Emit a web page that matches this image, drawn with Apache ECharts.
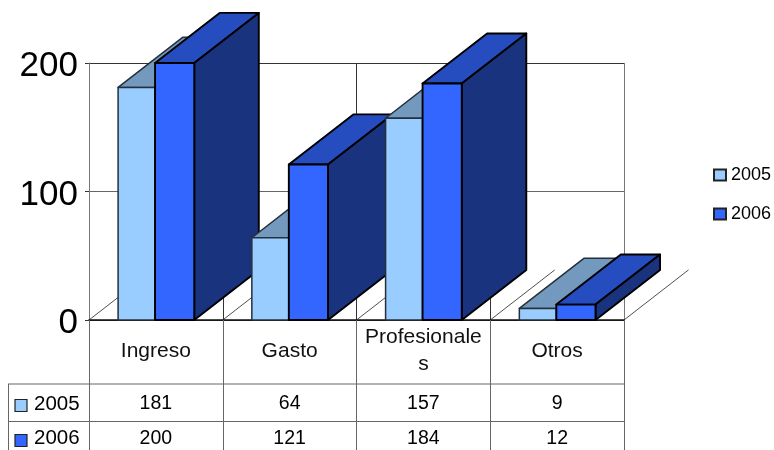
<!DOCTYPE html>
<html>
<head>
<meta charset="utf-8">
<script src="https://cdn.jsdelivr.net/npm/echarts@6/dist/echarts.min.js"></script>
<style>html,body{margin:0;padding:0;background:#fff}#c{width:774px;height:450px}</style>
</head>
<body>
<div id="c"></div>
<script>
const categories = ['Ingreso', 'Gasto', 'Profesionales', 'Otros'];
const seriesNames = ['2005', '2006'];
const values2005 = [181, 64, 157, 9];
const values2006 = [200, 121, 184, 12];
const yTicks = { min: 0, max: 200, interval: 100 };
const palette = [
  { front: '#99CCFF', top: '#7399BF', side: '#5C7A99', stroke: '#26303a' },
  { front: '#3366FF', top: '#264DBF', side: '#19337F', stroke: '#000000' }
];
const FONT = '"Liberation Sans", Arial, sans-serif';

const chart = echarts.init(document.getElementById('c'), null, { renderer: 'canvas' });

function barRender(sIdx) {
  return function (params, api) {
    const idx = api.value(0);
    const band = api.size([1, 0])[0];
    const unit = api.size([0, 1])[1];
    const base = api.coord([idx, 0]);
    const head = api.coord([idx, api.value(1)]);
    const wLight = band * 0.2765, wDark = band * 0.293;
    const start = base[0] - band / 2 + band * 0.2175;
    const x0 = sIdx === 0 ? start : start + wLight;
    const x1 = x0 + (sIdx === 0 ? wLight : wDark);
    const w = x1 - x0;
    const yT = head[1], yB = base[1];
    const dx = band * 0.4825, dy = unit * 39;
    const p = palette[sIdx];
    const z2 = 10 + idx * 4 + sIdx;
    const lw = sIdx === 1 ? 1.9 : 1.5;
    const st = { stroke: p.stroke, lineWidth: lw, lineJoin: 'round' };
    return {
      type: 'group',
      children: [
        { type: 'polygon', z2, shape: { points: [[x0, yT], [x0 + dx, yT - dy], [x1 + dx, yT - dy], [x1, yT]] }, style: Object.assign({ fill: p.top }, st) },
        { type: 'polygon', z2, shape: { points: [[x1, yT], [x1 + dx, yT - dy], [x1 + dx, yB - dy], [x1, yB]] }, style: Object.assign({ fill: p.side }, st) },
        { type: 'rect', z2, shape: { x: x0, y: yT, width: w, height: yB - yT }, style: Object.assign({ fill: p.front }, st) }
      ]
    };
  };
}

function floorRender(params, api) {
  const idx = api.value(0);
  const band = api.size([1, 0])[0];
  const unit = api.size([0, 1])[1];
  const base = api.coord([idx, 0]);
  const dx = band * 0.4825, dy = unit * 39;
  const xs = [base[0] - band / 2];
  if (idx === categories.length - 1) xs.push(base[0] + band / 2);
  return {
    type: 'group',
    children: xs.map(x => ({
      type: 'line', z2: 1,
      shape: { x1: x, y1: base[1], x2: x + dx, y2: base[1] - dy },
      style: { stroke: '#222', lineWidth: 0.8 }
    }))
  };
}

function tableAxis(data, offset) {
  return {
    type: 'category', data: data.map(String), position: 'bottom', offset,
    axisLine: { show: false }, axisTick: { show: false }, splitLine: { show: false },
    axisLabel: { interval: 0, color: '#000', fontFamily: FONT, fontSize: 19.5, margin: 0, verticalAlign: 'middle' }
  };
}

const rowSwatchY = [399.5, 434.5];
const rowTextY = [404, 438.5];
const tableLeft = 8, tableRight = 624, tableRules = [384, 421.5];
const graphics = [];
tableRules.forEach(y => graphics.push({
  type: 'line', z: 1,
  shape: { x1: tableLeft, y1: y, x2: tableRight, y2: y },
  style: { stroke: '#666', lineWidth: 1 }
}));
graphics.push({
  type: 'line', z: 1,
  shape: { x1: tableLeft + 0.5, y1: tableRules[0], x2: tableLeft + 0.5, y2: 450 },
  style: { stroke: '#666', lineWidth: 1 }
});
seriesNames.forEach((n, i) => {
  graphics.push({
    type: 'rect', z: 3,
    shape: { x: 15, y: rowSwatchY[i], width: 12, height: 12 },
    style: { fill: palette[i].front, stroke: '#222', lineWidth: 1.2 }
  });
  graphics.push({
    type: 'text', z: 3, x: 34, y: rowTextY[i],
    style: { text: n, fill: '#000', font: '20.5px ' + FONT, verticalAlign: 'middle' }
  });
});

chart.setOption({
  animation: false,
  backgroundColor: '#fff',
  tooltip: { show: false },
  grid: { left: 89, right: 150, top: 63, bottom: 130, containLabel: false },
  legend: {
    show: true, orient: 'vertical', left: 713, top: 166,
    data: seriesNames, icon: 'rect', itemWidth: 12, itemHeight: 11, itemGap: 21,
    textStyle: { color: '#000', fontFamily: FONT, fontSize: 18, padding: [0, 0, 0, 0] },
    selectedMode: false, padding: 0
  },
  xAxis: [
    {
      type: 'category', data: categories, position: 'bottom',
      axisLine: { show: true, lineStyle: { color: '#111', width: 1.5 } },
      axisTick: { show: true, length: 130, alignWithLabel: false, lineStyle: { color: '#666', width: 1 } },
      splitLine: { show: true, lineStyle: { color: ['#777', '#333', '#333', '#333', '#777'], width: 1 } },
      axisLabel: {
        interval: 0, color: '#111', fontFamily: FONT, fontSize: 21, margin: 31,
        verticalAlign: 'middle', lineHeight: 27, width: 122, overflow: 'breakAll', hideOverlap: false
      }
    },
    tableAxis(values2005, 84),
    tableAxis(values2006, 119)
  ],
  yAxis: {
    type: 'value', min: yTicks.min, max: yTicks.max, interval: yTicks.interval,
    axisLine: { show: true, lineStyle: { color: '#777', width: 1 } },
    axisTick: { show: true, length: 4, lineStyle: { color: '#333', width: 1 } },
    splitLine: { show: true, lineStyle: { color: ['#333', '#666', '#333'], width: 1 } },
    axisLabel: { color: '#000', fontFamily: FONT, fontSize: 35, margin: 11, verticalAlign: 'top', lineHeight: 7 }
  },
  graphic: graphics,
  series: [
    {
      name: 'floor', type: 'custom', renderItem: floorRender,
      data: categories.map((c, i) => [i]), encode: { x: 0 }, silent: true
    },
    {
      name: seriesNames[0], type: 'custom', renderItem: barRender(0),
      data: values2005.map((v, i) => [i, v]), encode: { x: 0, y: 1 },
      itemStyle: { color: palette[0].front, borderColor: '#222', borderWidth: 1.2 }
    },
    {
      name: seriesNames[1], type: 'custom', renderItem: barRender(1),
      data: values2006.map((v, i) => [i, v]), encode: { x: 0, y: 1 },
      itemStyle: { color: palette[1].front, borderColor: '#222', borderWidth: 1.2 }
    }
  ]
});
</script>
</body>
</html>
